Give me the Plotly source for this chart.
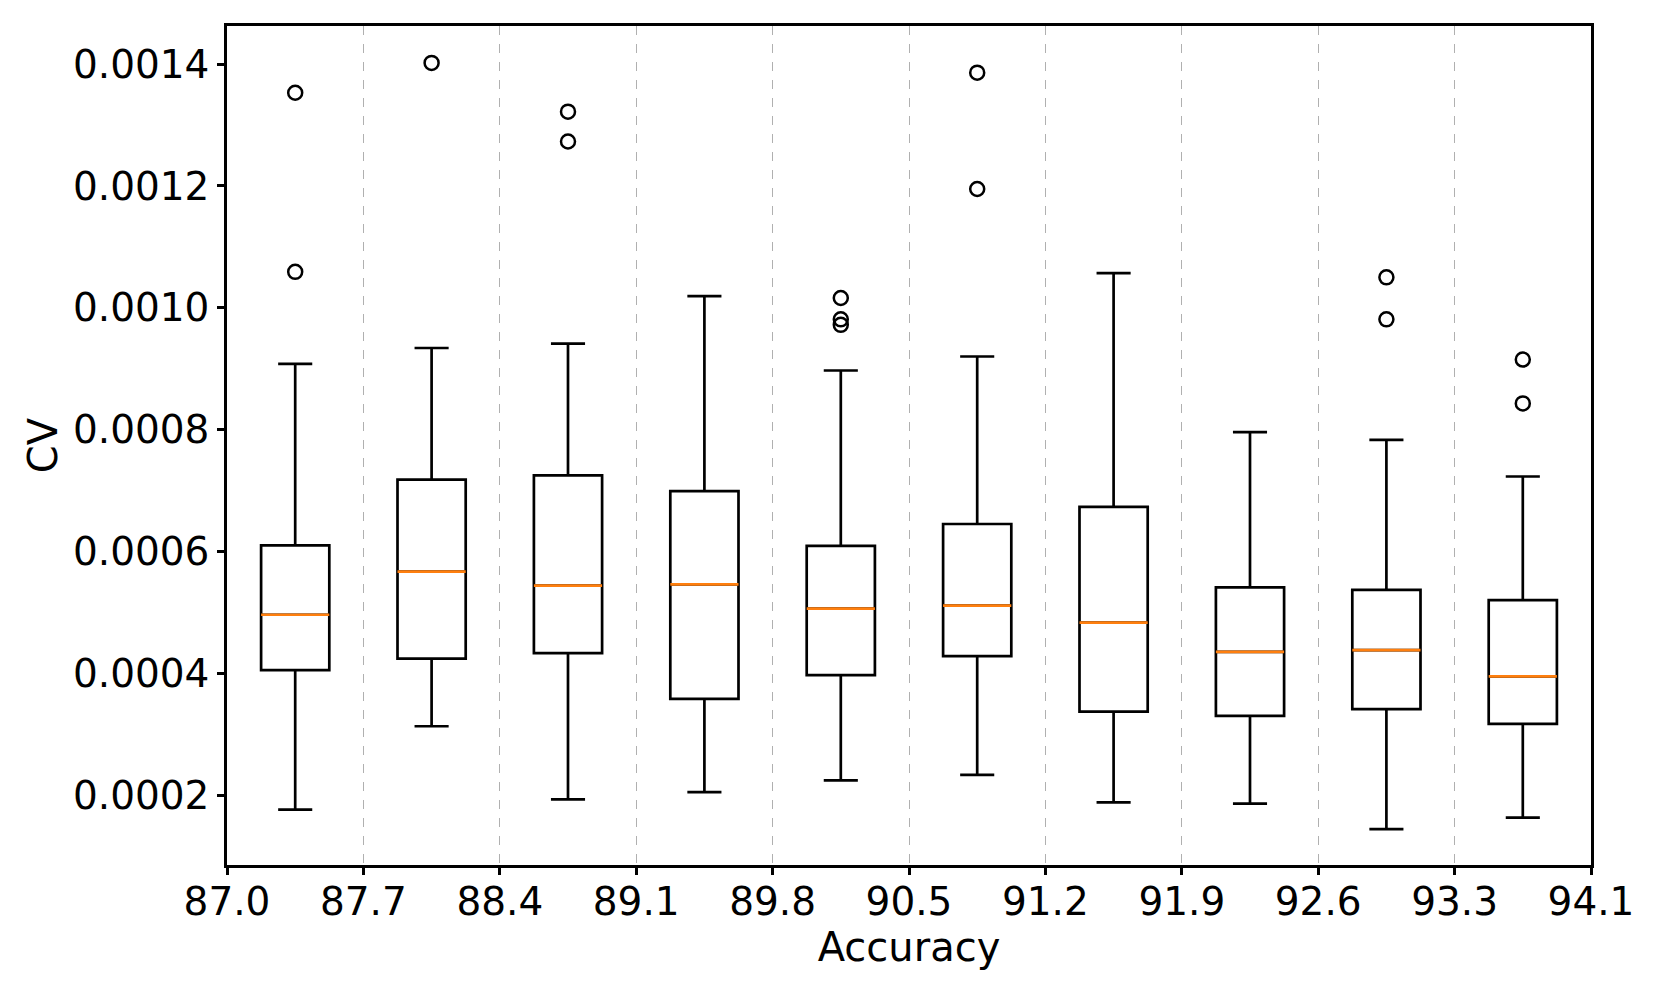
import plotly.graph_objects as go

tick_labels = ["87.0", "87.7", "88.4", "89.1", "89.8", "90.5", "91.2", "91.9", "92.6", "93.3", "94.1"]
positions = [1, 2, 3, 4, 5, 6, 7, 8, 9, 10]
lower_whisker = [0.000176, 0.000313, 0.000193, 0.000205, 0.000224, 0.000233, 0.000188, 0.000186, 0.000144, 0.000163]
q1 = [0.000405, 0.000424, 0.000433, 0.000358, 0.000397, 0.000428, 0.000337, 0.000330, 0.000341, 0.000317]
median = [0.000496, 0.000567, 0.000544, 0.000546, 0.000506, 0.000511, 0.000483, 0.000435, 0.000438, 0.000395]
q3 = [0.000610, 0.000718, 0.000725, 0.000699, 0.000609, 0.000645, 0.000673, 0.000541, 0.000537, 0.000520]
upper_whisker = [0.000908, 0.000934, 0.000941, 0.001019, 0.000897, 0.000920, 0.001057, 0.000796, 0.000783, 0.000723]
outliers = [
    [0.001353, 0.001059],
    [0.001402],
    [0.001322, 0.001273],
    [],
    [0.001016, 0.000981, 0.000972],
    [0.001386, 0.001195],
    [],
    [],
    [0.001050, 0.000981],
    [0.000915, 0.000843],
]

BOX_W = 0.5
LW = 2.7

fig = go.Figure()

fig.add_trace(go.Box(
    x=positions, q1=q1, median=median, q3=q3,
    lowerfence=lower_whisker, upperfence=upper_whisker,
    width=BOX_W, whiskerwidth=0.5,
    line=dict(color="black", width=LW),
    fillcolor="rgba(255,255,255,0)",
    boxpoints=False, showlegend=False, hoverinfo="skip",
))

# median lines (orange)
mx, my = [], []
for p, m in zip(positions, median):
    mx += [p - BOX_W / 2, p + BOX_W / 2, None]
    my += [m, m, None]
fig.add_trace(go.Scatter(x=mx, y=my, mode="lines",
                         line=dict(color="#ff7f0e", width=LW),
                         showlegend=False, hoverinfo="skip"))

# outliers
ox, oy = [], []
for p, vals in zip(positions, outliers):
    for v in vals:
        ox.append(p)
        oy.append(v)
fig.add_trace(go.Scatter(x=ox, y=oy, mode="markers",
                         marker=dict(symbol="circle-open", size=14, color="black",
                                     line=dict(color="black", width=2.5)),
                         showlegend=False, hoverinfo="skip"))

fig.update_layout(
    width=1661, height=997,
    paper_bgcolor="white", plot_bgcolor="white",
    margin=dict(l=227, r=70, t=26, b=132),
    font=dict(family="DejaVu Sans", size=39, color="black"),
    showlegend=False,
)

fig.update_xaxes(
    range=[0.5, 10.5],
    tickmode="array",
    tickvals=[i + 0.5 for i in range(len(tick_labels))],
    ticktext=tick_labels,
    tickfont=dict(family="DejaVu Sans", size=39, color="black"),
    ticks="outside", ticklen=7, tickwidth=2.5, tickcolor="black",
    ticklabelstandoff=-7,
    showline=True, linecolor="black", linewidth=2.5, mirror=True,
    showgrid=True, gridcolor="#b0b0b0", gridwidth=1.4, griddash="dash",
    zeroline=False,
    title=dict(text="Accuracy", font=dict(family="DejaVu Sans", size=40, color="black"), standoff=2),
)

fig.update_yaxes(
    range=[0.0000852, 0.0014626],
    tickmode="array",
    tickvals=[0.0002, 0.0004, 0.0006, 0.0008, 0.0010, 0.0012, 0.0014],
    tickformat=".4f",
    tickfont=dict(family="DejaVu Sans", size=39, color="black"),
    ticks="outside", ticklen=7, tickwidth=2.5, tickcolor="black",
    showline=True, linecolor="black", linewidth=2.5, mirror=True,
    showgrid=False, zeroline=False,
    title=dict(text="CV", font=dict(family="DejaVu Sans", size=40, color="black"), standoff=3),
)

fig.write_html("out.html", config={"displayModeBar": False},
               post_script="document.body.style.margin='0';")
